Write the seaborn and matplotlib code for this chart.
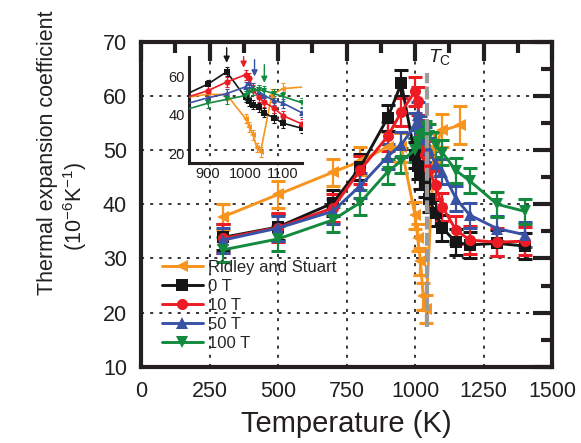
import numpy as np
import pandas as pd
import matplotlib.pyplot as plt
import seaborn as sns
from matplotlib.lines import Line2D
from matplotlib.ticker import MultipleLocator

# Data
temps = [300, 500, 700, 800, 900, 950, 1000, 1010, 1020, 1035, 1050, 1075, 1100, 1150, 1200, 1300, 1400]
alpha_0t = [33.9, 35.8, 40.2, 46.8, 55.9, 62.3, 49.0, 47.0, 45.3, 43.8, 41.0, 38.4, 35.6, 33.0, 32.5, 32.8, 32.3]
alpha_10t = [33.7, 35.7, 39.3, 46.3, 52.5, 57.0, 60.8, 59.0, 53.0, 49.0, 46.5, 43.5, 39.5, 35.2, 33.4, 33.0, 33.2]
alpha_50t = [33.4, 35.6, 38.7, 43.4, 48.8, 51.0, 54.5, 56.5, 54.0, 52.0, 50.0, 47.5, 46.0, 41.0, 38.0, 35.5, 34.4]
alpha_100t = [31.6, 33.6, 37.1, 40.3, 46.0, 48.0, 50.0, 51.5, 52.5, 53.0, 52.5, 51.0, 49.5, 46.2, 44.3, 40.0, 38.7]
err_fields = {'0 T': 2.4, '10 T': 2.6, '50 T': 2.3, '100 T': 2.3}

temps_rs = [300, 500, 700, 800, 900, 950, 1000, 1010, 1020, 1030, 1040, 1070, 1100, 1165]
alpha_rs = [37.7, 41.8, 45.9, 47.9, 50.6, 50.5, 38.0, 33.8, 29.5, 23.0, 20.7, 50.5, 53.6, 54.6]
err_rs = [2.4, 2.5, 2.5, 2.6, 2.7, 2.7, 2.5, 2.5, 2.5, 2.5, 2.5, 2.7, 3.0, 3.5]

tc = 1043
# peak markers in the inset: temperature, arrow start, arrow tip
arrow_temps = [950, 995, 1024, 1050]
arrow_tops = [74.8, 70.2, 68.6, 66.0]
arrow_tips = [67.0, 64.4, 59.9, 56.6]

order = ['Ridley and Stuart', '0 T', '10 T', '50 T', '100 T']
colors = {'Ridley and Stuart': '#F7941D', '0 T': '#161616', '10 T': '#ED1C24',
          '50 T': '#3953A4', '100 T': '#138A3E'}
markers = {'Ridley and Stuart': '<', '0 T': 's', '10 T': 'o', '50 T': '^', '100 T': 'v'}

frames = [pd.DataFrame({'T': temps_rs, 'alpha': alpha_rs, 'err': err_rs, 'series': 'Ridley and Stuart'})]
for name, vals in zip(order[1:], [alpha_0t, alpha_10t, alpha_50t, alpha_100t]):
    frames.append(pd.DataFrame({'T': temps, 'alpha': vals, 'err': err_fields[name], 'series': name}))
df = pd.concat(frames, ignore_index=True)

sns.set_theme(style='white')
plt.rcParams['font.family'] = ['Liberation Sans', 'DejaVu Sans']
plt.rcParams['mathtext.fontset'] = 'custom'
plt.rcParams['mathtext.rm'] = 'Liberation Sans'
plt.rcParams['mathtext.it'] = 'Liberation Sans:italic'
ink = '#231F20'

fig = plt.figure(figsize=(5.81, 4.43), dpi=100)
ax = fig.add_axes([0.2427, 0.1716, 0.7074, 0.7347])

# error bars, then lines + markers through seaborn
for name in order:
    d = df[df['series'] == name]
    ax.errorbar(d['T'], d['alpha'], yerr=d['err'], fmt='none', ecolor=colors[name],
                elinewidth=1.6, capsize=5, capthick=2.2, zorder=2)
sns.lineplot(data=df, x='T', y='alpha', hue='series', style='series', hue_order=order,
             style_order=order, palette=colors, markers=markers, dashes=False,
             markersize=8, linewidth=2.1, markeredgewidth=0, estimator=None, sort=False,
             legend=False, ax=ax, zorder=3)

# Curie temperature
ax.vlines(tc, 17.3, 64.2, colors='#9B9B9B', linestyles=(0, (3.1, 0.8)), linewidth=3, zorder=5)
ax.text(1046, 67.2, r'$T_{\mathrm{C}}$', fontsize=14, ha='left', va='center', color=ink)

ax.set_xlim(0, 1500)
ax.set_ylim(10, 70)
ax.xaxis.set_major_locator(MultipleLocator(250))
ax.xaxis.set_minor_locator(MultipleLocator(125))
ax.yaxis.set_major_locator(MultipleLocator(10))
ax.yaxis.set_minor_locator(MultipleLocator(5))
ax.tick_params(which='both', direction='in', top=True, right=True, width=3, color=ink,
               labelsize=15.5, pad=10, labelcolor=ink)
ax.tick_params(which='major', length=14)
ax.tick_params(which='minor', length=8)
ax.grid(True, which='major', color='black', linestyle=(0, (2, 4)), linewidth=1.1)
for s in ax.spines.values():
    s.set_linewidth(3)
    s.set_color(ink)

ax.set_xlabel('Temperature (K)', fontsize=21, labelpad=6, color=ink)
ax.set_ylabel('')
fig.text(0.0826, 0.6546, 'Thermal expansion coefficient', rotation=90, ha='center',
         va='center', fontsize=15.5, color=ink)
fig.text(0.129, 0.535, '(10$^{-6}$K$^{-1}$)', rotation=90, ha='center', va='center',
         fontsize=15.5, color=ink)

handles = [Line2D([], [], color=colors[n], marker=markers[n], markersize=8, linewidth=2.1,
                  markeredgewidth=0) for n in order]
ax.legend(handles, order, loc='upper left', bbox_to_anchor=(0.05, 0.33), frameon=False,
          fontsize=12, handlelength=2.5, handletextpad=0.3, labelspacing=0.25,
          borderpad=0, borderaxespad=0)

# Inset: zoom around the transition
axin = fig.add_axes([0.3253, 0.6321, 0.1945, 0.2393])
axin.patch.set_alpha(0)
for name in order:
    d = df[df['series'] == name]
    axin.errorbar(d['T'], d['alpha'], yerr=d['err'], fmt='none', ecolor=colors[name],
                  elinewidth=0.8, capsize=1.5, capthick=0.8, zorder=2)
sns.lineplot(data=df, x='T', y='alpha', hue='series', style='series', hue_order=order,
             style_order=order, palette=colors, markers=markers, dashes=False,
             markersize=4.5, linewidth=1.2, markeredgewidth=0, estimator=None, sort=False,
             legend=False, ax=axin, zorder=3)
axin.set_xlim(850, 1150)
axin.set_ylim(15, 70)
axin.xaxis.set_major_locator(MultipleLocator(100))
axin.xaxis.set_minor_locator(MultipleLocator(50))
axin.yaxis.set_major_locator(MultipleLocator(20))
axin.yaxis.set_minor_locator(MultipleLocator(10))
axin.tick_params(which='both', direction='in', width=2, color=ink, labelsize=10.5, pad=3,
                 labelcolor=ink)
axin.tick_params(which='major', length=6)
axin.tick_params(which='minor', length=3.5)
axin.spines['top'].set_visible(False)
axin.spines['right'].set_visible(False)
for s in ['left', 'bottom']:
    axin.spines[s].set_linewidth(2.2)
    axin.spines[s].set_color(ink)
axin.set_xlabel('')
axin.set_ylabel('')
for t, top, tip, name in zip(arrow_temps, arrow_tops, arrow_tips, order[1:]):
    axin.annotate('', xy=(t, tip), xytext=(t, top), annotation_clip=False,
                  arrowprops=dict(arrowstyle='-|>', color=colors[name], lw=1,
                                  mutation_scale=9, shrinkA=0, shrinkB=0))

fig.savefig('out.png', dpi=100)
